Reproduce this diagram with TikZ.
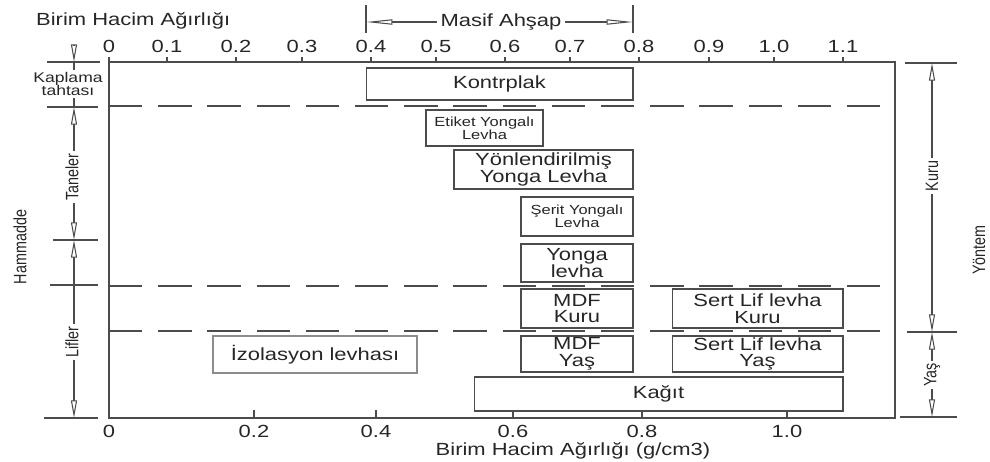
\documentclass[tikz,border=0pt]{standalone}
\usepackage{fontspec}
\setmainfont[FakeStretch=1.25]{Liberation Sans}
\newfontfamily\rotfont[FakeStretch=0.8]{Liberation Sans}
\usepackage{tikz}
\usetikzlibrary{
	arrows.meta,
	positioning
}

\begin{document}
\begin{tikzpicture}[x=0.02cm,y=-0.02cm,
		>={Triangle[open,length=10pt,width=3.4pt]},
		cizgi/.style={draw=black!70,line width=0.6pt},
		kesik/.style={cizgi,dash pattern=on 19pt off 9pt},
		yatay/.style={{Triangle[open,length=15pt,width=3pt]}-{Triangle[open,length=15pt,width=3pt]}},
		levha/.style={cizgi,inner sep=0pt,align=center,text=black!85,font=\fontsize{10}{9.6}\selectfont},
		kucuk/.style={levha,font=\fontsize{7.5}{7.6}\selectfont},
		olcu/.style={text=black!85,font=\fontsize{10}{12}\selectfont},
		dikey/.style={rotate=90,fill=white,inner sep=1.5pt,text=black!85,font=\rotfont\fontsize{10.2}{12}\selectfont}]
		\useasboundingbox (0,0) rectangle (990,461);
		% cerceve ve kesikli ayrimlar
		\draw[cizgi] (109,62) rectangle (895,418);
		\draw[kesik] (109,106) -- (895,106);
		\draw[kesik] (109,286) -- (895,286);
		\draw[kesik] (109,331) -- (895,331);
		% ust eksen
		\node[olcu,anchor=west] (ustbaslik) at (30,21) {Birim Hacim Ağırlığı};
		\foreach \px/\v [count=\i] in {109/0,167/0.1,236/0.2,302/0.3,371/0.4,436/0.5,505/0.6,570/0.7,639/0.8,709/0.9,774/1.0,843/1.1}{
			\draw[cizgi] (\px,57) -- (\px,62);
			\node[olcu] (ust\i) at (\px,46) {\v};
		}
		% alt eksen
		\foreach \px/\v [count=\i] in {109/0,254/0.2,376/0.4,513/0.6,642/0.8,787/1.0}{
			\draw[cizgi] (\px,410) -- (\px,418);
			\node[olcu] (alt\i) at (\px,431) {\v};
		}
		\node[olcu] (altbaslik) at (573,451) {Birim Hacim Ağırlığı (g/cm3)};
		% masif ahsap
		\coordinate (m1) at (366,22);
		\coordinate (m2) at (633,22);
		\draw[cizgi] (366,5) -- (366,33);
		\draw[cizgi] (633,5) -- (633,33);
		\draw[cizgi,yatay] (m1) -- (m2);
		\node[olcu,fill=white,inner sep=2pt] (masif) at (501,22) {Masif Ahşap};
		% levhalar
		\node[levha,minimum width=5.34cm,minimum height=0.64cm] (kontrplak) at (499.5,84) {Kontrplak};
		\node[kucuk,minimum width=2.34cm,minimum height=0.72cm] (etiket) at (484.5,128) {Etiket Yongalı\\Levha};
		\node[levha,minimum width=3.58cm,minimum height=0.78cm] (yonlendirilmis) at (543.5,169.5) {Yönlendirilmiş\\Yonga Levha};
		\node[kucuk,minimum width=2.24cm,minimum height=0.78cm] (serit) at (577,216.5) {Şerit Yongalı\\Levha};
		\node[levha,minimum width=2.24cm,minimum height=0.76cm] (yonga) at (577,263) {Yonga\\levha};
		\node[levha,minimum width=2.24cm,minimum height=0.78cm] (mdfkuru) at (577,308.5) {MDF\\Kuru};
		\node[levha,minimum width=3.42cm,minimum height=0.78cm] (sertkuru) at (757.5,308.5) {Sert Lif levha\\Kuru};
		\node[levha,minimum width=2.24cm,minimum height=0.72cm] (mdfyas) at (577,354) {MDF\\Yaş};
		\node[levha,minimum width=3.42cm,minimum height=0.72cm] (sertyas) at (757.5,354) {Sert Lif levha\\Yaş};
		\node[levha,minimum width=7.38cm,minimum height=0.68cm] (kagit) at (658.5,394) {Kağıt};
		\node[levha,draw=black!45,minimum width=4.08cm,minimum height=0.74cm] (izolasyon) at (315,354.5) {İzolasyon levhası};
		% hammadde olculeri (sol)
		\coordinate (k0) at (74,45);
		\coordinate (k1) at (74,62);
		\coordinate (k2) at (74,107);
		\coordinate (k3) at (74,240);
		\coordinate (k4) at (74,418);
		\draw[cizgi] (47,62) -- (100,62);
		\draw[cizgi] (47,107) -- (98,107);
		\draw[cizgi] (53,240) -- (98,240);
		\draw[cizgi] (50,285) -- (98,285);
		\draw[cizgi] (44,418) -- (98,418);
		\draw[cizgi,->] (k0) -- (k1);
		\draw[cizgi] (k1) -- (k2);
		\draw[cizgi,<->] (k2) -- (k3);
		\draw[cizgi,<->] (k3) -- (k4);
		\node[fill=white,inner sep=1pt,align=center,text=black!85,font=\fontsize{8}{7.6}\selectfont] (kaplama) at (68,84) {Kaplama\\tahtası};
		\node[dikey] (taneler) at (72,177) {Taneler};
		\node[dikey] (lifler) at (72,342) {Lifler};
		\node[dikey] (hammadde) at (20,247) {Hammadde};
		% yontem olculeri (sag)
		\coordinate (y1) at (932,63);
		\coordinate (y2) at (932,332);
		\coordinate (y3) at (932,417);
		\draw[cizgi] (905,63) -- (957,63);
		\draw[cizgi] (907,332) -- (957,332);
		\draw[cizgi] (900,417) -- (957,417);
		\draw[cizgi,<->] (y1) -- (y2);
		\draw[cizgi,<->] (y2) -- (y3);
		\node[dikey] (kuru) at (932,176) {Kuru};
		\node[dikey] (yas) at (932,375) {Yaş};
		\node[dikey] (yontem) at (979,250) {Yöntem};
	\end{tikzpicture}
\end{document}
